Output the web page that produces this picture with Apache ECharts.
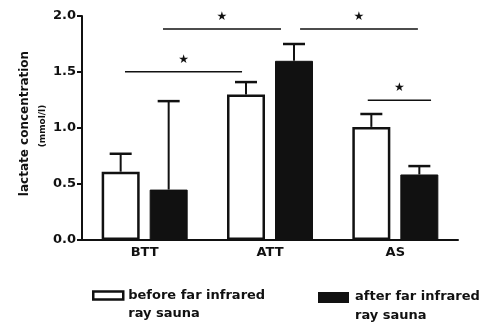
<!DOCTYPE html>
<html><head><meta charset="utf-8">
<script src="https://cdn.jsdelivr.net/npm/echarts@6/dist/echarts.min.js"></script>
<style>html,body{margin:0;padding:0;background:#fff}#c{width:485px;height:323px}</style>
</head><body><div id="c"></div>
<script>
var categories = ['BTT', 'ATT', 'AS'];
var beforeMean = [0.61, 1.30, 1.01];
var beforeUpper = [0.77, 1.41, 1.125];
var afterMean = [0.45, 1.60, 0.585];
var afterUpper = [1.24, 1.75, 0.66];
var seriesNames = ['before far infrared\nray sauna', 'after far infrared\nray sauna'];
var yTicks = [0, 0.5, 1.0, 1.5, 2.0];
// significance brackets: [xStart, xEnd, y] in category units (category i spans i..i+1)
var brackets = [[0.343, 1.277, 1.503], [0.646, 1.588, 1.884], [1.74, 2.68, 1.884], [2.28, 2.785, 1.247]];
var sigLabel = '★';

var INK = '#111';
var BAR_W = 38, BAR_GAP = 10;
var font = '"DejaVu Sans", sans-serif';

function errData(means, uppers) {
  return means.map(function (m, i) { return [i, m, uppers[i]]; });
}
function errSeries(means, uppers, sign) {
  return {
    type: 'custom', xAxisIndex: 0, yAxisIndex: 0, z: 1,
    data: errData(means, uppers),
    renderItem: function (params, api) {
      var base = api.coord([api.value(0), api.value(1)]);
      var top = api.coord([api.value(0), api.value(2)]);
      var x = base[0] + sign * (BAR_W + BAR_GAP) / 2;
      var half = 11;
      return {
        type: 'group', children: [
          { type: 'line', shape: { x1: x, y1: base[1], x2: x, y2: top[1] }, style: { stroke: INK, lineWidth: 2 } },
          { type: 'line', shape: { x1: x - half, y1: top[1], x2: x + half, y2: top[1] }, style: { stroke: INK, lineWidth: 2.5 } }
        ]
      };
    }
  };
}
function legendFmt(name) {
  var parts = name.split('\n');
  return '{e| }\n{a|' + parts[0] + '}\n{a|' + parts[1] + '}';
}
var legendRich = {
  e: { fontSize: 1, lineHeight: 18 },
  a: { fontFamily: font, fontWeight: 'bold', fontSize: 13, color: INK, lineHeight: 18 }
};

var chart = echarts.init(document.getElementById('c'));
chart.setOption({
  animation: false,
  backgroundColor: '#fff',
  grid: { left: 82, right: 27, top: 16, bottom: 83 },
  legend: [
    { data: [seriesNames[0]], left: 92, top: 277, padding: 0, itemWidth: 30, itemHeight: 8, itemGap: 0, icon: 'rect',
      itemStyle: { borderWidth: 2.5, borderColor: INK },
      formatter: legendFmt, textStyle: { rich: legendRich } },
    { data: [seriesNames[1]], left: 318, top: 278, padding: 0, itemWidth: 29, itemHeight: 9, itemGap: 0, icon: 'rect',
      formatter: legendFmt, textStyle: { rich: { e: legendRich.e, a: Object.assign({}, legendRich.a, { padding: [0, 0, 0, 2], lineHeight: 19 }) } } }
  ],
  xAxis: [
    { type: 'category', data: categories,
      axisLine: { lineStyle: { color: INK, width: 2 } },
      axisTick: { alignWithLabel: true, length: 5, lineStyle: { color: INK, width: 2 } },
      axisLabel: { fontFamily: font, fontWeight: 'bold', fontSize: 13, color: INK, margin: 6 } },
    { type: 'value', min: 0, max: 3, show: false }
  ],
  yAxis: {
    type: 'value', min: 0, max: 2, interval: 0.5,
    name: '{a|lactate concentration}\n{b|(mmol/l)}',
    nameLocation: 'middle', nameRotate: 90, nameGap: 31, nameMoveOverlap: false,
    nameTextStyle: { rich: {
      a: { fontFamily: font, fontWeight: 'bold', fontSize: 12, color: INK, lineHeight: 20, padding: [0, 0, 0, 9] },
      b: { fontFamily: font, fontWeight: 'bold', fontSize: 9, color: INK, lineHeight: 16, padding: [0, 0, 0, 4] } } },
    splitLine: { show: false },
    axisLine: { show: true, lineStyle: { color: INK, width: 2 } },
    axisTick: { show: true, length: 5, lineStyle: { color: INK, width: 2 } },
    axisLabel: { fontFamily: font, fontWeight: 'bold', fontSize: 13, color: INK, margin: 6,
      formatter: function (v) { return yTicks.indexOf(v) >= 0 ? v.toFixed(1) : ''; } }
  },
  series: [
    errSeries(beforeMean, beforeUpper, -1),
    errSeries(afterMean, afterUpper, 1),
    { name: seriesNames[0], type: 'bar', data: beforeMean, barWidth: BAR_W, barGap: (BAR_GAP / BAR_W * 100) + '%', z: 3,
      itemStyle: { color: '#fff', borderColor: INK, borderWidth: 2.5 } },
    { name: seriesNames[1], type: 'bar', data: afterMean, barWidth: BAR_W, z: 3,
      itemStyle: { color: INK, borderColor: INK, borderWidth: 1 } },
    { type: 'custom', xAxisIndex: 1, yAxisIndex: 0, z: 4, data: brackets,
      renderItem: function (params, api) {
        var p1 = api.coord([api.value(0), api.value(2)]);
        var p2 = api.coord([api.value(1), api.value(2)]);
        return { type: 'group', children: [
          { type: 'line', shape: { x1: p1[0], y1: p1[1], x2: p2[0], y2: p2[1] }, style: { stroke: INK, lineWidth: 1.5 } },
          { type: 'text', style: { x: (p1[0] + p2[0]) / 2, y: p1[1] - 12, text: sigLabel, textAlign: 'center', textVerticalAlign: 'middle',
            fill: INK, font: 'bold 12px "DejaVu Sans", sans-serif' } }
        ] };
      } }
  ]
});
</script></body></html>
